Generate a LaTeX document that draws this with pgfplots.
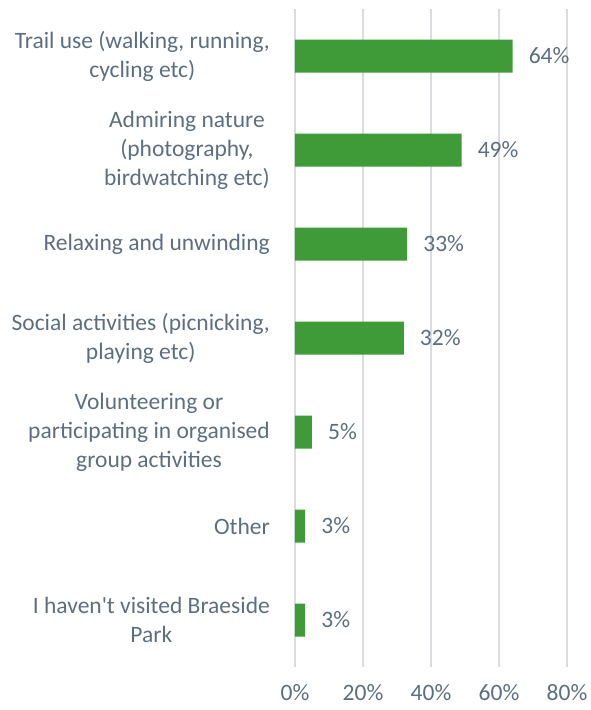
\documentclass[border=0pt]{standalone}
\usepackage{fontspec}
\setmainfont{Carlito}
\usepackage{pgfplots}
\pgfplotsset{compat=1.18}
\definecolor{barg}{RGB}{63,155,55}
\definecolor{txt}{RGB}{92,111,130}
\definecolor{grd}{RGB}{217,220,225}

\begin{document}
\begin{tikzpicture}
\begin{axis}[
  at={(0,0)}, anchor=south west,
  scale only axis, width=272bp, height=658bp,
  xbar, bar width=33bp,
  xmin=0, xmax=80, ymin=-0.5, ymax=6.5, y dir=reverse,
  axis line style={draw=none},
  major tick length=0pt,
  xmajorgrids, grid style={grd, line width=1.4bp},
  xtick={0,20,40,60,80},
  xticklabel={\pgfmathprintnumber[assume math mode=true]{\tick}\%},
  xticklabel style={font=\fontsize{23.5bp}{29bp}\selectfont, text=txt, anchor=center, inner sep=0pt, yshift=-26bp},
  ytick={0,...,6},
  yticklabels={
    {Trail use (walking, running,\\cycling etc)},
    {Admiring nature\\(photography,\\birdwatching etc)},
    {Relaxing and unwinding},
    {Social activities (picnicking,\\playing etc)},
    {Volunteering or\\participating in organised\\group activities},
    {Other},
    {I haven\textquotesingle t visited Braeside\\Park}
  },
  yticklabel style={font=\fontsize{23.5bp}{29bp}\selectfont, text=txt, align=center, anchor=east, inner sep=0pt, xshift=-25bp},
  nodes near coords={\pgfmathprintnumber[assume math mode=true]{\pgfplotspointmeta}\%},
  nodes near coords style={font=\fontsize{23.5bp}{29bp}\selectfont, text=txt, anchor=west, inner sep=0pt, xshift=16bp},
]
\addplot[fill=barg, draw=none] coordinates {
  (64,0) (49,1) (33,2) (32,3) (5,4) (3,5) (3,6)
};
\end{axis}
\useasboundingbox (-295bp,-43bp) rectangle (296bp,667bp);
\end{tikzpicture}
\end{document}
